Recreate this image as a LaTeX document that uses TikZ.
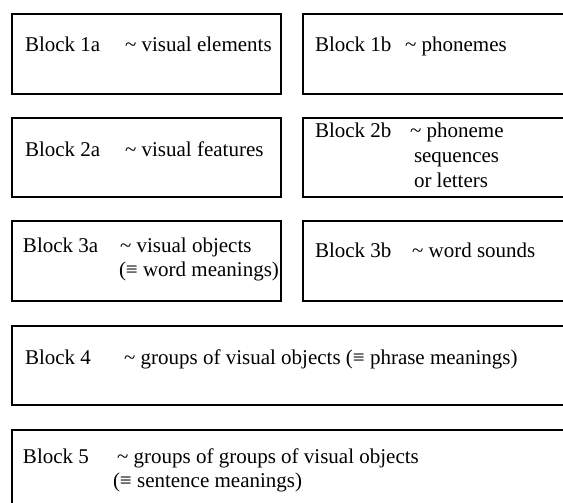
\documentclass[tikz,border=0pt]{standalone}
\usepackage{fontspec}
\setmainfont{Liberation Serif}
\begin{document}
\begin{tikzpicture}[x=1pt,y=-1pt,
  blk/.style={draw=black,line width=2.5pt,rectangle,inner sep=0pt,outer sep=0pt},
  txt/.style={anchor=base west,inner sep=0pt,outer sep=0pt,font=\fontsize{21}{24}\selectfont}]
\useasboundingbox (0,0) rectangle (563,503);
\clip (0,0) rectangle (563,503);
% boxes
\node[blk,fit/.style={},minimum width=269pt,minimum height=80pt] (b1a) at (146.5,54) {};
\node[blk,minimum width=297pt,minimum height=80pt] (b1b) at (451.5,54) {};
\node[blk,minimum width=269pt,minimum height=79pt] (b2a) at (146.5,157.5) {};
\node[blk,minimum width=297pt,minimum height=79pt] (b2b) at (451.5,157.5) {};
\node[blk,minimum width=269pt,minimum height=80pt] (b3a) at (146.5,261) {};
\node[blk,minimum width=297pt,minimum height=80pt] (b3b) at (451.5,261) {};
\node[blk,minimum width=588pt,minimum height=79pt] (b4) at (306,365.5) {};
\node[blk,minimum width=588pt,minimum height=90pt] (b5) at (306,475) {};
% texts
\node[txt] (t1a) at (25,52) {Block 1a};
\node[txt] (d1a) at (125,52) {\char"007E{} visual elements};
\node[txt] (t1b) at (315,52) {Block 1b};
\node[txt] (d1b) at (405,52) {\char"007E{} phonemes};
\node[txt] (t2a) at (25,157) {Block 2a};
\node[txt] (d2a) at (125,157) {\char"007E{} visual features};
\node[txt] (t2b) at (315,138) {Block 2b};
\node[txt] (d2b) at (410,138) {\char"007E{} phoneme};
\node[txt] (e2b) at (414,163) {sequences};
\node[txt] (f2b) at (414,187) {or letters};
\node[txt] (t3a) at (23,252) {Block 3a};
\node[txt] (d3a) at (120,252) {\char"007E{} visual objects};
\node[txt] (e3a) at (119,276) {(≡ word meanings)};
\node[txt] (t3b) at (315,257) {Block 3b};
\node[txt] (d3b) at (412,257) {\char"007E{} word sounds};
\node[txt] (t4) at (25,364) {Block 4};
\node[txt] (d4) at (124,364) {\char"007E{} groups of visual objects (≡ phrase meanings)};
\node[txt] (t5) at (23,463) {Block 5};
\node[txt] (d5) at (117,463) {\char"007E{} groups of groups of visual objects};
\node[txt] (e5) at (113,487) {(≡ sentence meanings)};
\end{tikzpicture}
\end{document}
